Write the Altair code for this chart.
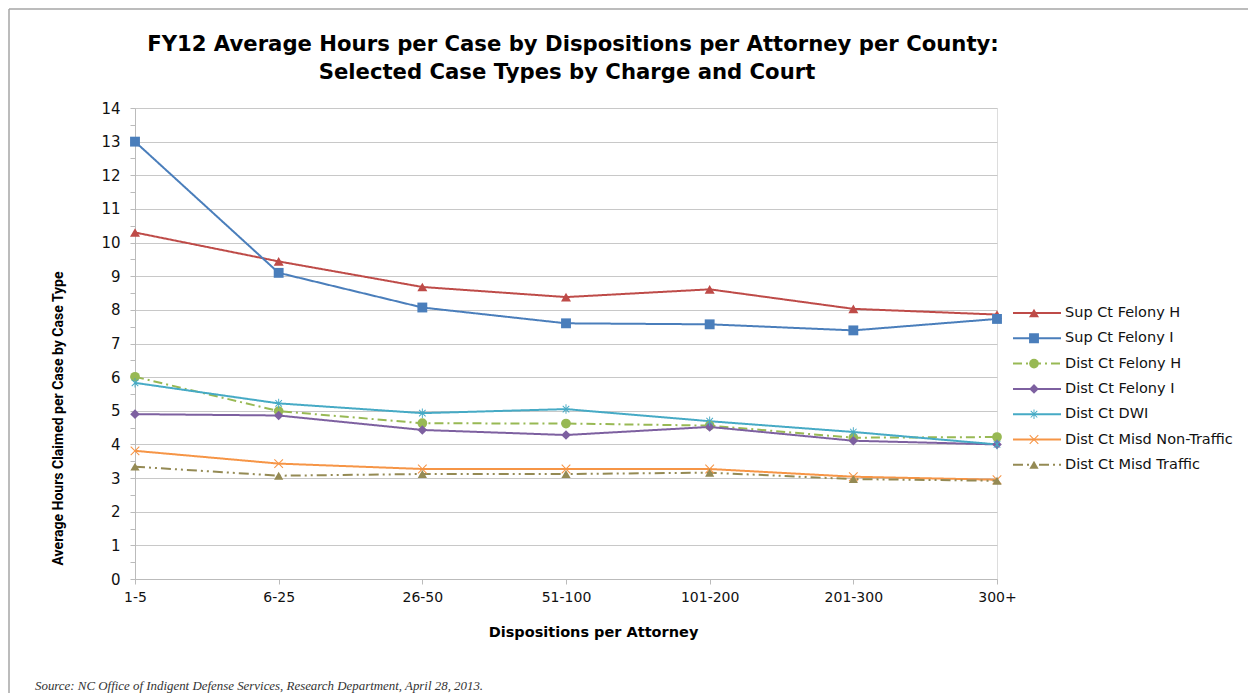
import altair as alt
import pandas as pd

cats = ["1-5", "6-25", "26-50", "51-100", "101-200", "201-300", "300+"]
series_names = ["Sup Ct Felony H", "Sup Ct Felony I", "Dist Ct Felony H", "Dist Ct Felony I",
                "Dist Ct DWI", "Dist Ct Misd Non-Traffic", "Dist Ct Misd Traffic"]
sup_h = [10.30, 9.44, 8.68, 8.38, 8.61, 8.03, 7.86]
sup_i = [13.0, 9.10, 8.07, 7.60, 7.57, 7.39, 7.73]
dist_h = [6.01, 4.99, 4.63, 4.62, 4.56, 4.20, 4.22]
dist_i = [4.90, 4.86, 4.43, 4.28, 4.52, 4.11, 4.00]
dwi = [5.83, 5.22, 4.93, 5.05, 4.69, 4.37, 4.00]
misd_nt = [3.81, 3.43, 3.27, 3.27, 3.27, 3.04, 2.95]
misd_t = [3.34, 3.07, 3.12, 3.12, 3.16, 2.97, 2.92]

colors = ["#BE4B48", "#4A7EBB", "#98B954", "#7D60A0", "#46AAC5", "#F69546", "#948A54"]
dashes = [[1, 0], [1, 0], [9, 4, 2, 4], [1, 0], [1, 0], [1, 0], [10, 4, 2, 4, 2, 4]]
ASTERISK = ("M-0.1,-1L0.1,-1L0.1,1L-0.1,1Z"
            "M-0.76,-0.62L-0.62,-0.76L0.76,0.62L0.62,0.76Z"
            "M-0.76,0.62L0.62,-0.76L0.76,-0.62L-0.62,0.76Z")
XMARK = ("M-1,-0.84L-0.84,-1L1,0.84L0.84,1Z"
         "M-1,0.84L0.84,-1L1,-0.84L-0.84,1Z")
shapes = ["triangle-up", "square", "circle", "diamond", ASTERISK, XMARK, "triangle-up"]
sizes = [100, 85, 100, 70, 230, 200, 100]

title_lines = ["FY12 Average Hours per Case by Dispositions per Attorney per County:",
               "Selected Case Types by Charge and Court"]
source_text = "Source: NC Office of Indigent Defense Services, Research Department, April 28, 2013."

rows = []
for name, vals in zip(series_names, [sup_h, sup_i, dist_h, dist_i, dwi, misd_nt, misd_t]):
    for c, v in zip(cats, vals):
        rows.append({"cat": c, "value": v, "series": name, "series_pt": name})
df = pd.DataFrame(rows)

FONT = "DejaVu Sans"

x_enc = alt.X("cat:N", sort=cats, scale=alt.Scale(type="point", padding=0),
              axis=alt.Axis(title="Dispositions per Attorney", labelAngle=0, labelFontSize=14,
                            labelColor="#111", labelFont=FONT, labelPadding=6, tickSize=5,
                            tickColor="#BBBBBB", domainColor="#BBBBBB", grid=False,
                            titleFont=FONT, titleFontSize=14.5, titleFontWeight="bold",
                            titleColor="#000", titleX=458, titleY=53, titleBaseline="middle"))
y_enc = alt.Y("value:Q", scale=alt.Scale(domain=[0, 14], nice=False),
              axis=alt.Axis(title="Average Hours Claimed per Case by Case Type",
                            values=[i * 0.5 for i in range(29)],
                            labelExpr="datum.value % 1 == 0 ? format(datum.value, 'd') : ''",
                            labelOverlap=False, labelFontSize=15, labelColor="#111",
                            labelFont=FONT, labelPadding=10, tickSize=5,
                            tickColor="#BBBBBB", domainColor="#BBBBBB",
                            gridColor="#C8C8C8",
                            gridOpacity={"condition": {"test": "datum.value % 1 != 0", "value": 0}, "value": 1},
                            titleFont="Roboto", titleFontSize=14,
                            titleFontWeight="bold", titleColor="#000",
                            titleX=-77, titleY=310, titleBaseline="middle", titleAlign="center"))

line_legend = alt.Legend(title=None, orient="none", legendX=877, legendY=195,
                         symbolType="stroke", symbolSize=2304, symbolStrokeWidth=2,
                         labelFont=FONT, labelFontSize=14.5, labelColor="#111",
                         labelOffset=3, clipHeight=20, rowPadding=5.3, padding=0,
                         labelLimit=300)
lines = alt.Chart(df).mark_line(strokeWidth=2).encode(
    x=x_enc, y=y_enc,
    color=alt.Color("series:N", scale=alt.Scale(domain=series_names, range=colors),
                    legend=line_legend),
    strokeDash=alt.StrokeDash("series:N", scale=alt.Scale(domain=series_names, range=dashes),
                              legend=line_legend),
)

pt_legend = alt.Legend(title=None, orient="none", legendX=893, legendY=195,
                       labelExpr="''", clipHeight=20, rowPadding=5.3, padding=0)
points = alt.Chart(df).mark_point(filled=True, opacity=1, strokeWidth=0).encode(
    x=x_enc, y=y_enc,
    shape=alt.Shape("series_pt:N",
                    scale=alt.Scale(domain=series_names, range=shapes), legend=pt_legend),
    color=alt.Color("series_pt:N",
                    scale=alt.Scale(domain=series_names, range=colors), legend=pt_legend),
    size=alt.Size("series_pt:N",
                  scale=alt.Scale(domain=series_names, range=sizes), legend=pt_legend),
)

title1 = alt.Chart(pd.DataFrame({"t": [title_lines[0]]})).mark_text(
    align="center", baseline="middle", font=FONT, fontSize=21.2, fontWeight="bold",
    color="#000").encode(x=alt.value(438), y=alt.value(-63), text="t:N")
title2 = alt.Chart(pd.DataFrame({"t": [title_lines[1]]})).mark_text(
    align="center", baseline="middle", font=FONT, fontSize=21.2, fontWeight="bold",
    color="#000").encode(x=alt.value(432), y=alt.value(-35), text="t:N")

source = alt.Chart(pd.DataFrame({"t": [source_text]})).mark_text(
    align="left", baseline="middle", font="Liberation Serif", fontStyle="italic",
    fontSize=12.9, color="#333").encode(x=alt.value(-100), y=alt.value(578), text="t:N")

frame_top = alt.Chart(pd.DataFrame({"a": [0]})).mark_rule(color="#A6A6A6", strokeWidth=1.5).encode(
    x=alt.value(-126), x2=alt.value(1125), y=alt.value(-99))
frame_left = alt.Chart(pd.DataFrame({"a": [0]})).mark_rule(color="#A6A6A6", strokeWidth=1.5).encode(
    x=alt.value(-126), y=alt.value(-99), y2=alt.value(585))

chart = alt.layer(frame_top, frame_left, title1, title2, lines, points, source).resolve_scale(
    color="independent", strokeDash="independent", shape="independent", size="independent"
).properties(
    width=862, height=471,
    autosize=alt.AutoSizeParams(type="none"),
    padding={"left": 127, "top": 100, "right": 251, "bottom": 114},
).configure_view(stroke="#B9CDE5", strokeWidth=1).configure(background="white")

chart.save("out.html", embed_options={"renderer": "svg", "actions": False})
